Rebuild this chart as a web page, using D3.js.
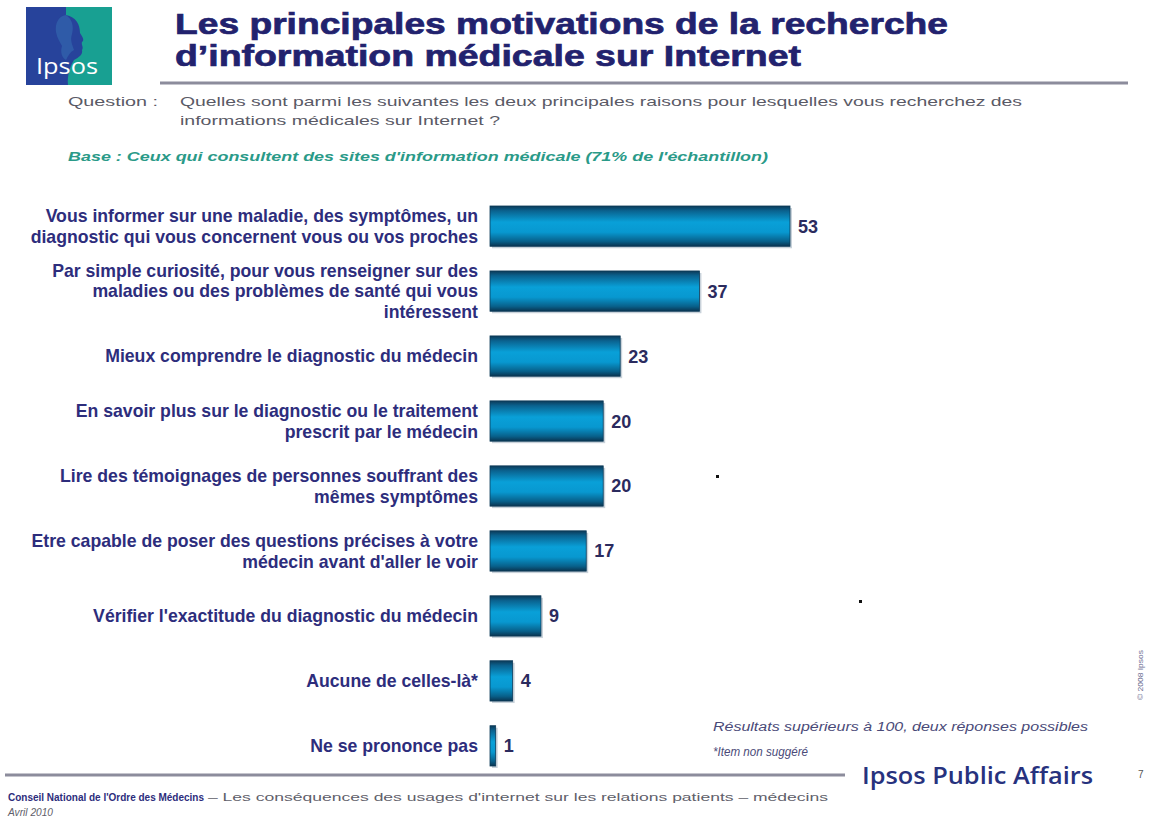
<!DOCTYPE html>
<html lang="fr">
<head>
<meta charset="UTF-8">
<title>Motivations recherche information médicale</title>
<style>
  body { margin: 0; background: #fff; }
  svg { display: block; font-family: "Liberation Sans", Arial, sans-serif; }
</style>
<script src="https://cdn.jsdelivr.net/npm/d3@7"></script>
</head>
<body>
<script>
// Données
var categories = [
  ["Vous informer sur une maladie, des symptômes, un", "diagnostic qui vous concernent vous ou vos proches"],
  ["Par simple curiosité, pour vous renseigner sur des", "maladies ou des problèmes de santé qui vous", "intéressent"],
  ["Mieux comprendre le diagnostic du médecin"],
  ["En savoir plus sur le diagnostic ou le traitement", "prescrit par le médecin"],
  ["Lire des témoignages de personnes souffrant des", "mêmes symptômes"],
  ["Etre capable de poser des questions précises à votre", "médecin avant d'aller le voir"],
  ["Vérifier l'exactitude du diagnostic du médecin"],
  ["Aucune de celles-là*"],
  ["Ne se prononce pas"]
];
var valeurs = [53, 37, 23, 20, 20, 17, 9, 4, 1];

var titre = ["Les principales motivations de la recherche", "d\u2019information médicale sur Internet"];
var question = ["Quelles sont parmi les suivantes les deux principales raisons pour lesquelles vous recherchez des",
                "informations médicales sur Internet ?"];
var base = "Base : Ceux qui consultent des sites d'information médicale (71% de l'échantillon)";
var notes = ["Résultats supérieurs à 100, deux réponses possibles", "*Item non suggéré"];
var source = ["Conseil National de l'Ordre des Médecins", "\u2013 Les conséquences des usages d'internet sur les relations patients \u2013 médecins", "Avril 2010"];

var W = 1153, H = 832;
var navy = "#22226e", marine = "#2d2d7c";

var svg = d3.select("body").append("svg").attr("width", W).attr("height", H);

var defs = svg.append("defs");
var grad = defs.append("linearGradient").attr("id", "barre")
  .attr("x1", 0).attr("y1", 0).attr("x2", 0).attr("y2", 1);
[[0, "#0c3a58"], [0.12, "#0a628f"], [0.4, "#09a0d8"], [0.65, "#0898d0"], [0.88, "#08608a"], [1, "#0a3450"]]
  .forEach(function(s) { grad.append("stop").attr("offset", s[0]).attr("stop-color", s[1]); });

// Logo Ipsos
var logo = svg.append("g");
logo.append("rect").attr("x", 26).attr("y", 7).attr("width", 86).attr("height", 78).attr("fill", "#27439b");
logo.append("path").attr("fill", "#18a092")
  .attr("d", "M66,7 L112,7 L112,85 L68,85 C67,76 70,66 74,60 C79,57 83,55 82,50 C84,47 81,45 82,42 C85,40 82,36 80,33 C80,24 76,17 66,15 Z");
logo.append("path").attr("fill", "#2f5ba8")
  .attr("d", "M66,15 C58,16 55,24 56,32 C57,38 60,42 62,46 C60,52 62,58 66,60 C68,56 70,52 74,50 C72,44 70,40 72,34 C74,26 72,19 66,15 Z");
logo.append("text").attr("x", 67).attr("y", 74).attr("text-anchor", "middle")
  .attr("fill", "#fff").style("font-family", "'Open Sans', sans-serif").style("font-size", "21px")
  .attr("textLength", 62).attr("lengthAdjust", "spacingAndGlyphs").text("Ipsos");

// Titre
svg.selectAll(".titre").data(titre).enter().append("text")
  .attr("x", 175).attr("y", function(d, i) { return 34 + i * 32; })
  .attr("fill", navy).attr("stroke", navy).attr("stroke-width", 0.7)
  .style("font-weight", "bold").style("font-size", "30px")
  .attr("textLength", function(d, i) { return i === 0 ? 773 : 626; })
  .attr("lengthAdjust", "spacingAndGlyphs")
  .text(function(d) { return d; });

svg.append("line").attr("x1", 160).attr("x2", 1128).attr("y1", 83).attr("y2", 83)
  .attr("stroke", "#8c8c9c").attr("stroke-width", 3);

// Question
svg.append("text").attr("x", 68).attr("y", 106).attr("fill", "#5a5a66")
  .style("font-size", "13px").attr("textLength", 90).attr("lengthAdjust", "spacingAndGlyphs").text("Question :");
svg.selectAll(".question").data(question).enter().append("text")
  .attr("x", 180).attr("y", function(d, i) { return 106 + i * 19; })
  .attr("fill", "#5a5a66").style("font-size", "13px")
  .attr("textLength", function(d, i) { return i === 0 ? 842 : 320; })
  .attr("lengthAdjust", "spacingAndGlyphs")
  .text(function(d) { return d; });

svg.append("text").attr("x", 68).attr("y", 161).attr("fill", "#2a9a88")
  .style("font-size", "12.5px").style("font-weight", "bold").style("font-style", "italic")
  .attr("textLength", 700).attr("lengthAdjust", "spacingAndGlyphs").text(base);

// Echelles
var x = d3.scaleLinear().domain([0, 53]).range([490, 790]);
var y = d3.scaleBand().domain(d3.range(valeurs.length)).range([206, 766]).paddingInner(0.38).paddingOuter(0);

// Taille de police des libellés ajustée à la largeur de la référence
var essai = svg.append("text").style("font-weight", "bold").style("font-size", "14px").text(categories[2][0]);
var taille = 14 * 373 / essai.node().getComputedTextLength();
essai.remove();

var lignes = svg.append("g");
categories.forEach(function(c, i) {
  var cy = y(i) + y.bandwidth() / 2;
  var lh = 20.5;
  c.forEach(function(l, j) {
    lignes.append("text")
      .attr("x", 478).attr("y", cy + (j - (c.length - 1) / 2) * lh)
      .attr("dy", "0.36em").attr("text-anchor", "end")
      .attr("fill", marine).style("font-weight", "bold").style("font-size", taille + "px")
      .text(l);
  });
});

// Barres
var barres = svg.append("g");
barres.selectAll(".ombre").data(valeurs).enter().append("rect")
  .attr("x", x(0) + 2).attr("y", function(d, i) { return y(i) + 2; })
  .attr("width", function(d) { return x(d) - x(0); }).attr("height", y.bandwidth())
  .attr("fill", "#c9d2da");
barres.selectAll(".barre").data(valeurs).enter().append("rect")
  .attr("x", x(0)).attr("y", function(d, i) { return y(i); })
  .attr("width", function(d) { return x(d) - x(0); }).attr("height", y.bandwidth())
  .attr("fill", "url(#barre)").attr("stroke", "#0c3a58").attr("stroke-width", 0.8);

barres.selectAll(".valeur").data(valeurs).enter().append("text")
  .attr("x", function(d) { return x(d) + 8; })
  .attr("y", function(d, i) { return y(i) + y.bandwidth() / 2; })
  .attr("dy", "0.36em").attr("fill", "#2b2b5e")
  .style("font-weight", "bold").style("font-size", "18px")
  .text(function(d) { return d; });

// petits points parasites
svg.append("rect").attr("x", 716).attr("y", 475).attr("width", 3).attr("height", 3).attr("fill", "#111");
svg.append("rect").attr("x", 859).attr("y", 600).attr("width", 3).attr("height", 3).attr("fill", "#111");

// Notes
svg.selectAll(".note").data(notes).enter().append("text")
  .attr("x", 713).attr("y", function(d, i) { return 731 + i * 25; })
  .attr("fill", "#4a4a78").style("font-size", "12px").style("font-style", "italic")
  .attr("textLength", function(d, i) { return i === 0 ? 375 : 95; })
  .attr("lengthAdjust", "spacingAndGlyphs")
  .text(function(d) { return d; });

// Pied de page
svg.append("line").attr("x1", 5).attr("x2", 845).attr("y1", 775).attr("y2", 775)
  .attr("stroke", "#8c8c9c").attr("stroke-width", 3);

svg.append("text").attr("x", 862).attr("y", 784).attr("fill", "#27327e")
  .style("font-family", "'Open Sans', sans-serif").style("font-weight", 600).style("font-size", "23px")
  .attr("textLength", 231).attr("lengthAdjust", "spacingAndGlyphs").text("Ipsos Public Affairs");

svg.append("text").attr("x", 1138).attr("y", 778).attr("fill", "#555").style("font-size", "10px").text("7");
svg.append("text").attr("transform", "translate(1143,700) rotate(-90)")
  .attr("fill", "#6a6a90").style("font-size", "8px")
  .attr("textLength", 50).attr("lengthAdjust", "spacingAndGlyphs").text("\u00a9 2008 Ipsos");

svg.append("text").attr("x", 8).attr("y", 801).attr("fill", marine)
  .style("font-size", "10.5px").style("font-weight", "bold")
  .attr("textLength", 196).attr("lengthAdjust", "spacingAndGlyphs").text(source[0]);
svg.append("text").attr("x", 208).attr("y", 801).attr("fill", "#60606a")
  .style("font-size", "10.5px")
  .attr("textLength", 620).attr("lengthAdjust", "spacingAndGlyphs").text(source[1]);
svg.append("text").attr("x", 8).attr("y", 816).attr("fill", "#60606a")
  .style("font-size", "10.5px").style("font-style", "italic")
  .attr("textLength", 45).attr("lengthAdjust", "spacingAndGlyphs").text(source[2]);
</script>
</body>
</html>
